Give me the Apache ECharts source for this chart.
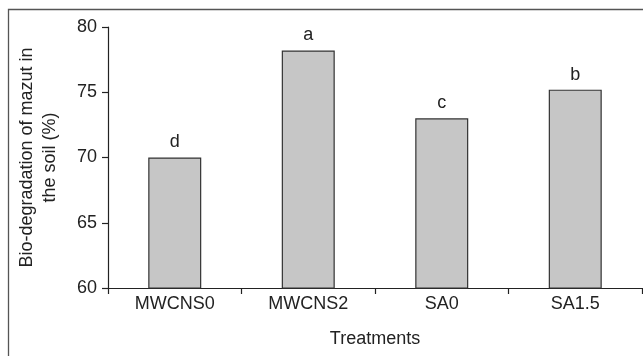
<!DOCTYPE html>
<html>
<head>
<meta charset="utf-8">
<script src="https://cdn.jsdelivr.net/npm/echarts@6/dist/echarts.min.js"></script>
<style>
  html, body { margin: 0; padding: 0; background: #ffffff; }
  #chart { width: 643px; height: 356px; }
</style>
</head>
<body>
<div id="chart"></div>
<script>
const categories = ['MWCNS0', 'MWCNS2', 'SA0', 'SA1.5'];
const biodegradation = [70.0, 78.2, 73.0, 75.2];
const letters = ['d', 'a', 'c', 'b'];
const yTicks = [60, 65, 70, 75, 80];

const FONT = '"Liberation Sans", Arial, Helvetica, sans-serif';
const TXT = '#222222';
const chart = echarts.init(document.getElementById('chart'), null, { renderer: 'canvas' });

chart.setOption({
  backgroundColor: '#ffffff',
  animation: false,
  textStyle: { fontFamily: FONT },
  grid: { left: 108, right: 1, top: 27, bottom: 68, containLabel: false },
  xAxis: {
    type: 'category',
    data: categories,
    boundaryGap: true,
    name: 'Treatments',
    nameLocation: 'middle',
    nameGap: 42,
    nameTextStyle: { fontSize: 18, color: TXT, fontFamily: FONT },
    axisLine: { show: true, lineStyle: { color: '#222', width: 1.2 } },
    axisTick: { show: true, length: 6, alignWithLabel: false, lineStyle: { color: '#222', width: 1.2 } },
    axisLabel: { fontSize: 18, color: TXT, margin: 7, fontFamily: FONT },
    splitLine: { show: false }
  },
  yAxis: {
    type: 'value',
    min: yTicks[0],
    max: yTicks[yTicks.length - 1],
    interval: 5,
    name: 'Bio-degradation of mazut in\nthe soil (%)',
    nameLocation: 'middle',
    nameGap: 46,
    nameRotate: 90,
    nameTextStyle: { fontSize: 18, color: TXT, lineHeight: 23, fontFamily: FONT, align: 'center' },
    axisLine: { show: true, lineStyle: { color: '#222', width: 1.2 } },
    axisTick: { show: true, length: 6, lineStyle: { color: '#222', width: 1.2 } },
    axisLabel: { fontSize: 18, color: TXT, margin: 11, fontFamily: FONT },
    splitLine: { show: false }
  },
  series: [{
    type: 'bar',
    data: biodegradation,
    barWidth: 53,
    itemStyle: { color: '#c6c6c6', borderColor: '#333', borderWidth: 1.2 },
    label: {
      show: true,
      position: 'top',
      distance: 6,
      fontSize: 18,
      color: TXT,
      fontFamily: FONT,
      formatter: function (p) { return letters[p.dataIndex]; }
    }
  }],
  graphic: [{
    type: 'polyline',
    shape: { points: [[8.5, 356], [8.5, 9.5], [643, 9.5]] },
    style: { stroke: '#555', lineWidth: 1.3, fill: null },
    silent: true
  }]
});
</script>
</body>
</html>
